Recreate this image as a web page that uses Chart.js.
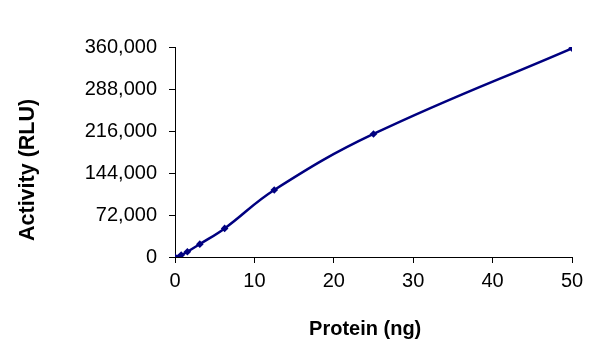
<!DOCTYPE html>
<html>
<head>
<meta charset="utf-8">
<script src="https://cdn.jsdelivr.net/npm/chart.js@4.4.1/dist/chart.umd.min.js"></script>
<style>
  html, body { margin: 0; padding: 0; background: #fff; }
  #wrap { width: 611px; height: 363px; }
</style>
</head>
<body>
<div id="wrap"><canvas id="c" width="611" height="363"></canvas></div>
<script>
const proteinNg = [0, 0.78, 1.56, 3.125, 6.25, 12.5, 25, 50];
const activityRLU = [0, 3400, 9000, 22000, 49000, 114900, 210900, 357800];
const yTicks = [0, 72000, 144000, 216000, 288000, 360000];
const xTicks = [0, 10, 20, 30, 40, 50];

const points = proteinNg.map((x, i) => ({ x: x, y: activityRLU[i] }));
const FONT = "'Liberation Sans', Arial, sans-serif";

new Chart(document.getElementById('c'), {
  type: 'line',
  data: {
    datasets: [{
      data: points,
      borderColor: '#000080',
      backgroundColor: '#000080',
      borderWidth: 2.5,
      tension: 0.4,
      pointStyle: 'rectRot',
      pointRadius: 3.8,
      pointBorderWidth: 0,
      fill: false
    }]
  },
  options: {
    responsive: false,
    animation: false,
    layout: { padding: { left: 0, right: 39, top: 47, bottom: 0 } },
    plugins: { legend: { display: false }, tooltip: { enabled: false } },
    scales: {
      x: {
        type: 'linear',
        min: 0, max: 50,
        afterBuildTicks: (s) => { s.ticks = xTicks.map(v => ({ value: v })); },
        afterFit: (s) => { s.height = 106; },
        grid: { display: true, drawOnChartArea: false, drawTicks: true, tickLength: 6, color: '#000', lineWidth: 1 },
        border: { display: true, color: '#000', width: 1 },
        ticks: { color: '#000', font: { family: FONT, size: 20 }, padding: 6, maxRotation: 0 },
        title: { display: true, text: 'Protein (ng)   ', color: '#000', font: { family: FONT, size: 20, weight: 'bold' }, padding: { top: 0, bottom: 22 } }
      },
      y: {
        type: 'linear',
        min: 0, max: 360000,
        afterBuildTicks: (s) => { s.ticks = yTicks.map(v => ({ value: v })); },
        afterFit: (s) => { s.width = 175; },
        grid: { display: true, drawOnChartArea: false, drawTicks: true, tickLength: 6, color: '#000', lineWidth: 1 },
        border: { display: true, color: '#000', width: 1 },
        ticks: { color: '#000', font: { family: FONT, size: 20 }, padding: 12,
          callback: (v) => Number(v).toLocaleString('en-US') },
        title: { display: true, text: 'Activity (RLU)      ', color: '#000', font: { family: FONT, size: 21.5, weight: 'bold' }, padding: { top: 15, bottom: 0 } }
      }
    }
  }
});
</script>
</body>
</html>
